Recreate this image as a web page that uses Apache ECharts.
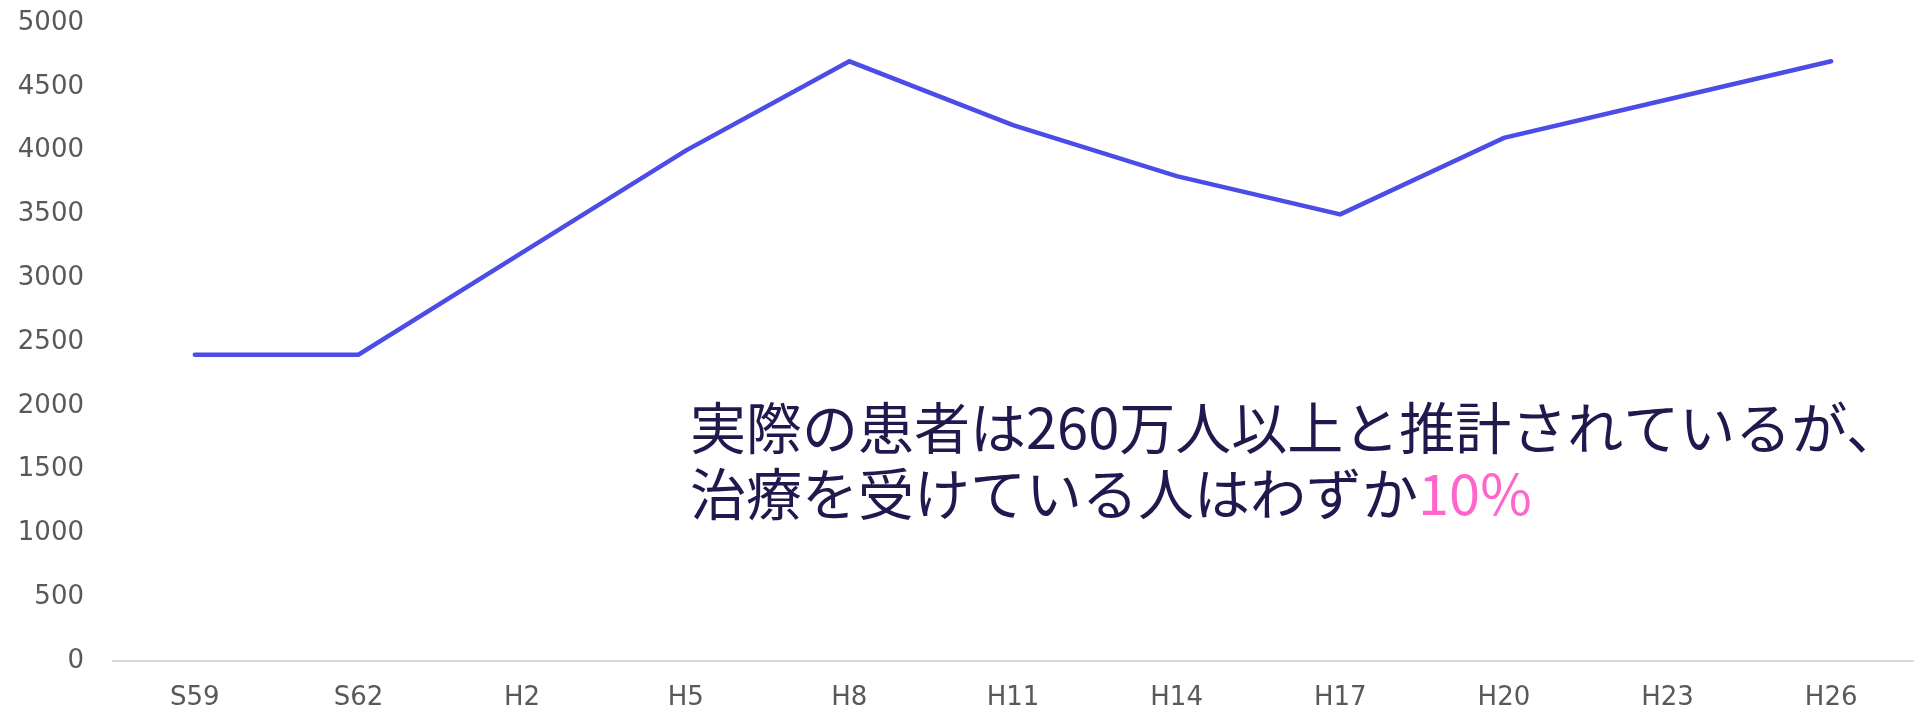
<!DOCTYPE html>
<html>
<head>
<meta charset="utf-8">
<script src="https://cdn.jsdelivr.net/npm/echarts@6/dist/echarts.min.js"></script>
<style>
  html, body { margin: 0; padding: 0; background: #ffffff; }
  #chart { width: 1917px; height: 714px; }
</style>
</head>
<body>
<div id="chart"></div>
<script>
// Survey years (Showa / Heisei)
const categories = ['S59', 'S62', 'H2', 'H5', 'H8', 'H11', 'H14', 'H17', 'H20', 'H23', 'H26'];
// Patient counts per survey
const patients = [2400, 2400, 3200, 4000, 4700, 4200, 3800, 3500, 4100, 4400, 4700];
// Value axis range
const yMin = 0;
const yMax = 5000;
const yStep = 500;
// Annotation text
const noteLine1 = '実際の患者は260万人以上と推計されているが、';
const noteLine2 = '治療を受けている人はわずか';
const noteHighlight = '10%';

const chart = echarts.init(document.getElementById('chart'), null, { renderer: 'canvas' });

const labelFont = '"DejaVu Sans", Verdana, sans-serif';
const jpFont = '"Noto Sans CJK JP", sans-serif';

chart.setOption({
  animation: false,
  backgroundColor: '#ffffff',
  grid: { left: 113, right: 4, top: 23, bottom: 53, containLabel: false },
  xAxis: {
    type: 'category',
    data: categories,
    boundaryGap: true,
    axisLine: { show: true, lineStyle: { color: '#d9d9d9', width: 2 } },
    axisTick: { show: false },
    axisLabel: { color: '#595959', fontSize: 26, fontFamily: labelFont, margin: 24 }
  },
  yAxis: {
    type: 'value',
    min: yMin,
    max: yMax,
    interval: yStep,
    axisLine: { show: false },
    axisTick: { show: false },
    splitLine: { show: false },
    axisLabel: {
      color: '#595959', fontSize: 26, fontFamily: labelFont, margin: 29,
      formatter: (v) => String(v)
    }
  },
  series: [{
    type: 'line',
    data: patients,
    symbol: 'none',
    lineStyle: { color: '#4b4de6', width: 4.5, cap: 'round', join: 'miter' }
  }],
  graphic: [
    {
      type: 'text',
      left: 690,
      top: 400,
      style: {
        text: noteLine1,
        fill: '#22184d',
        font: '56px ' + jpFont
      }
    },
    {
      type: 'text',
      left: 690,
      top: 466,
      style: {
        text: '{a|' + noteLine2 + '}{p|' + noteHighlight + '}',
        rich: {
          a: { fill: '#22184d', fontSize: 56, fontFamily: jpFont },
          p: { fill: '#ff66cc', fontSize: 56, fontFamily: jpFont }
        }
      }
    }
  ]
});
</script>
</body>
</html>
